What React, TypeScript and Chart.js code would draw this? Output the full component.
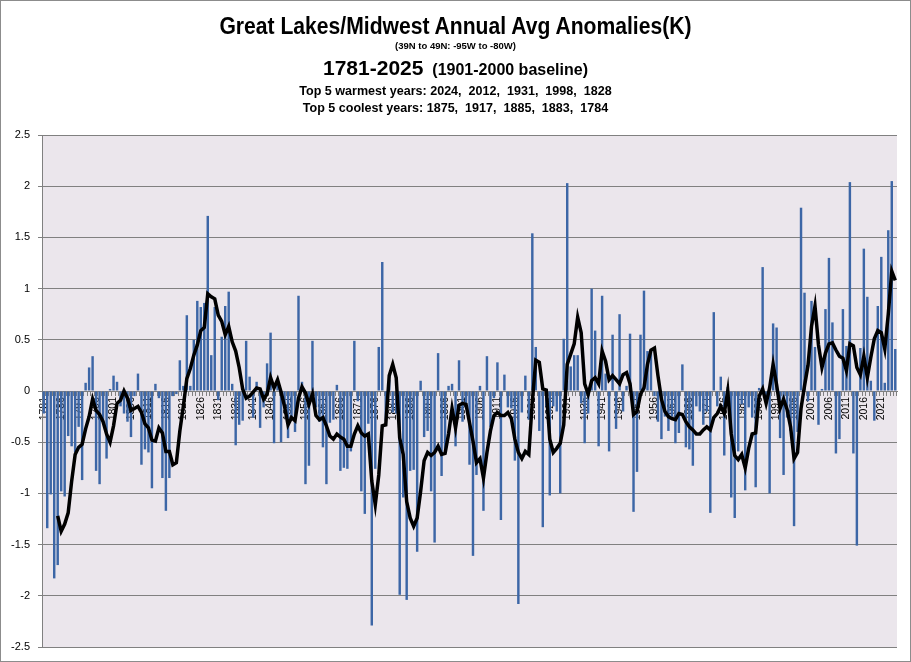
import React, { useEffect, useRef } from 'react';
import { Chart, registerables } from 'chart.js';

Chart.register(...registerables);

const FIRST_YEAR = 1781;
const LAST_YEAR = 2025;
const YEARS: string[] = [];
for (let y = FIRST_YEAR; y <= LAST_YEAR; y++) YEARS.push(String(y));

// Annual anomaly (K), 1781..2025
const ANOMALIES: number[] = [
  -0.22, -1.34, -1.01, -1.83, -1.70, -0.98, -1.03, -0.44, -0.54, -0.60,
  -0.35, -0.87, 0.08, 0.23, 0.34, -0.78, -0.91, -0.30, -0.66, 0.02,
  0.15, 0.09, -0.15, -0.22, -0.30, -0.45, -0.05, 0.17, -0.72, -0.57,
  -0.60, -0.95, 0.07, -0.07, -0.85, -1.17, -0.85, -0.05, -0.03, 0.30,
  0.05, 0.74, 0.05, 0.50, 0.88, 0.82, 0.86, 1.71, 0.35, 0.82,
  -0.09, 0.53, 0.83, 0.97, 0.07, -0.53, -0.33, -0.29, 0.49, 0.14,
  -0.26, 0.09, -0.36, -0.16, 0.27, 0.57, -0.51, 0.06, -0.50, -0.16,
  -0.46, -0.26, -0.40, 0.93, 0.09, -0.91, -0.73, 0.49, -0.16, -0.30,
  -0.55, -0.91, -0.31, -0.28, 0.06, -0.78, -0.75, -0.76, -0.59, 0.49,
  -0.10, -0.98, -1.20, -0.32, -2.29, -0.76, 0.43, 1.26, -0.29, 0.11,
  -0.21, -0.22, -1.99, -1.04, -2.04, -0.78, -0.77, -1.57, 0.10, -0.45,
  -0.39, -0.98, -1.48, 0.37, -0.83, -0.60, 0.05, 0.07, -0.54, 0.30,
  -0.30, -0.15, -0.72, -1.61, -0.82, 0.05, -1.17, 0.34, -0.35, -0.07,
  0.28, -1.26, 0.16, -0.16, -0.17, -0.68, -2.08, -0.21, 0.15, -0.28,
  1.54, 0.43, -0.39, -1.33, -0.15, -1.02, -0.15, -0.20, -1.00, 0.51,
  2.03, 0.24, 0.35, 0.35, -0.12, -0.51, -0.22, 1.00, 0.59, -0.54,
  0.93, 0.17, -0.59, 0.55, -0.37, 0.75, -0.20, 0.05, 0.56, -1.18,
  -0.79, 0.55, 0.98, 0.39, 0.40, -0.05, -0.30, -0.47, -0.25, -0.39,
  -0.25, -0.51, -0.41, 0.26, -0.55, -0.57, -0.73, -0.15, -0.20, -0.33,
  -0.20, -1.19, 0.77, -0.15, 0.14, -0.63, 0.04, -1.04, -1.24, -0.59,
  -0.13, -0.97, -0.16, -0.26, -0.94, 0.03, 1.21, -0.07, -1.00, 0.66,
  0.62, -0.46, -0.82, -0.26, -0.39, -1.32, -0.40, 1.79, 0.96, -0.10,
  0.88, 0.43, -0.33, 0.02, 0.80, 1.30, 0.67, -0.61, -0.47, 0.80,
  0.44, 2.04, -0.61, -1.51, 0.42, 1.39, 0.92, 0.10, -0.29, 0.83,
  1.31, 0.08, 1.57, 2.05, 0.41,
];

// 5-year running mean as drawn (black line), 1781..2025
const RUNNING_MEAN: (number | null)[] = [
  null, null, null, null, -1.22, -1.37, -1.30, -1.19, -0.88, -0.62,
  -0.55, -0.52, -0.37, -0.25, -0.08, -0.19, -0.23, -0.30, -0.42, -0.50,
  -0.34, -0.12, -0.09, 0.00, -0.07, -0.19, -0.17, -0.15, -0.21, -0.32,
  -0.36, -0.48, -0.49, -0.36, -0.41, -0.59, -0.59, -0.72, -0.70, -0.39,
  -0.15, 0.12, 0.22, 0.35, 0.45, 0.59, 0.62, 0.95, 0.92, 0.90,
  0.74, 0.68, 0.55, 0.63, 0.48, 0.39, 0.23, 0.02, -0.07, -0.05,
  -0.01, 0.03, 0.02, -0.08, -0.03, 0.13, 0.03, 0.11, -0.01, -0.15,
  -0.33, -0.26, -0.29, -0.07, 0.04, -0.02, -0.13, -0.03, -0.24, -0.28,
  -0.26, -0.34, -0.44, -0.47, -0.42, -0.45, -0.47, -0.54, -0.54, -0.42,
  -0.34, -0.41, -0.44, -0.42, -0.88, -1.11, -0.82, -0.34, -0.33, 0.15,
  0.26, 0.13, -0.46, -0.62, -1.08, -1.24, -1.32, -1.24, -0.98, -0.68,
  -0.60, -0.63, -0.60, -0.54, -0.62, -0.61, -0.42, -0.17, -0.36, -0.14,
  -0.12, -0.13, -0.31, -0.49, -0.70, -0.66, -0.85, -0.60, -0.39, -0.24,
  -0.21, -0.24, -0.24, -0.21, -0.27, -0.47, -0.60, -0.66, -0.59, -0.62,
  -0.10, 0.30, 0.28, 0.02, 0.01, -0.47, -0.60, -0.56, -0.51, -0.33,
  0.26, 0.36, 0.46, 0.72, 0.57, 0.07, -0.03, 0.10, 0.13, 0.07,
  0.39, 0.29, 0.11, 0.15, 0.11, 0.07, 0.16, 0.18, 0.07, -0.23,
  -0.20, -0.03, 0.03, 0.26, 0.40, 0.42, 0.15, -0.08, -0.20, -0.25,
  -0.27, -0.28, -0.22, -0.23, -0.30, -0.35, -0.38, -0.42, -0.42, -0.38,
  -0.35, -0.38, -0.26, -0.22, -0.15, -0.22, 0.00, -0.42, -0.63, -0.67,
  -0.62, -0.75, -0.56, -0.42, -0.41, -0.05, 0.02, -0.12, 0.03, 0.26,
  0.06, -0.17, -0.08, -0.18, -0.35, -0.66, -0.60, -0.17, 0.05, 0.25,
  0.63, 0.83, 0.45, 0.23, 0.37, 0.46, 0.47, 0.40, 0.34, 0.32,
  0.20, 0.46, 0.44, 0.23, 0.16, 0.34, 0.13, 0.33, 0.51, 0.59,
  0.57, 0.41, 0.75, 1.17, 1.08,
];

const TITLE = 'Great Lakes/Midwest Annual Avg Anomalies(K)';
const SUBTITLE = '(39N to 49N: -95W to -80W)';
const PERIOD = '1781-2025';
const BASELINE = '(1901-2000 baseline)';
const WARMEST = 'Top 5 warmest years: 2024,  2012,  1931,  1998,  1828';
const COOLEST = 'Top 5 coolest years: 1875,  1917,  1885,  1883,  1784';

const TITLE_FONT = '"Liberation Sans", Arial, sans-serif';
const AXIS_FONT = 'Liberation Sans';

const textStyle = (top: number, size: number, sx: number): React.CSSProperties => ({
  position: 'absolute',
  left: 0,
  width: 911,
  top,
  textAlign: 'center',
  fontFamily: TITLE_FONT,
  fontWeight: 'bold',
  fontSize: size,
  lineHeight: `${size}px`,
  whiteSpace: 'pre',
  color: '#000',
  pointerEvents: 'none',
  transform: `scaleX(${sx})`,
  transformOrigin: '455px 0',
});

export default function App() {
  const ref = useRef<HTMLCanvasElement>(null);

  useEffect(() => {
    if (!ref.current) return;
    const plotBg = {
      id: 'plotBg',
      beforeDraw(chart: any) {
        const { ctx, chartArea } = chart;
        ctx.save();
        ctx.fillStyle = '#EBE6EC';
        ctx.fillRect(chartArea.left, chartArea.top, chartArea.right - chartArea.left, chartArea.bottom - chartArea.top);
        ctx.restore();
      },
    };
    const chart = new Chart(ref.current, {
      type: 'bar',
      data: {
        labels: YEARS,
        datasets: [
          {
            type: 'line',
            data: RUNNING_MEAN,
            borderColor: '#000000',
            borderWidth: 3.5,
            pointRadius: 0,
            tension: 0,
            order: 0,
          } as any,
          {
            type: 'bar',
            data: ANOMALIES,
            backgroundColor: '#3C66A6',
            categoryPercentage: 1,
            barPercentage: 0.7,
            order: 1,
          } as any,
        ],
      },
      options: {
        responsive: false,
        animation: false,
        devicePixelRatio: 1,
        layout: { padding: { top: 135, right: 14, bottom: 15, left: 0 } },
        plugins: {
          legend: { display: false },
          title: { display: false },
          tooltip: { enabled: false },
        },
        scales: {
          x: {
            position: { y: 0 } as any,
            z: 1,
            grid: { drawOnChartArea: false, drawTicks: true, tickLength: 4, color: '#808080', offset: true },
            border: { color: '#808080', width: 1 },
            ticks: {
              autoSkip: false,
              minRotation: 90,
              maxRotation: 90,
              padding: 2,
              color: '#000',
              font: { family: AXIS_FONT, size: 10.5 },
              callback: (_v: any, i: number) => (i % 5 === 0 ? YEARS[i] : ''),
            },
          },
          y: {
            min: -2.5,
            max: 2.5,
            afterFit: (s: any) => {
              s.width = 42;
            },
            ticks: {
              stepSize: 0.5,
              padding: 8,
              color: '#000',
              font: { family: AXIS_FONT, size: 11 },
              callback: (v: any) => String(Math.round(Number(v) * 10) / 10),
            },
            grid: { color: '#808080', tickLength: 4 },
            border: { color: '#808080' },
          },
        },
      },
      plugins: [plotBg],
    });
    return () => chart.destroy();
  }, []);

  return (
    <div style={{ position: 'fixed', left: 0, top: 0, width: 911, height: 662, background: '#fff', overflow: 'hidden' }}>
      <canvas ref={ref} width={911} height={662} style={{ position: 'absolute', left: 0, top: 0, display: 'block' }} />
      <div style={textStyle(15, 23, 0.918)}>{TITLE}</div>
      <div style={textStyle(41, 9.5, 1)}>{SUBTITLE}</div>
      <div style={textStyle(57, 21, 1)}>
        {PERIOD}
        <span style={{ fontSize: 16 }}>{'  ' + BASELINE}</span>
      </div>
      <div style={textStyle(84, 13.5, 0.93)}>{WARMEST}</div>
      <div style={textStyle(101, 13.5, 0.93)}>{COOLEST}</div>
      <div style={{ position: 'absolute', left: 0, top: 0, width: 911, height: 662, boxSizing: 'border-box', border: '1px solid #8C8C8C', pointerEvents: 'none' }} />
    </div>
  );
}
